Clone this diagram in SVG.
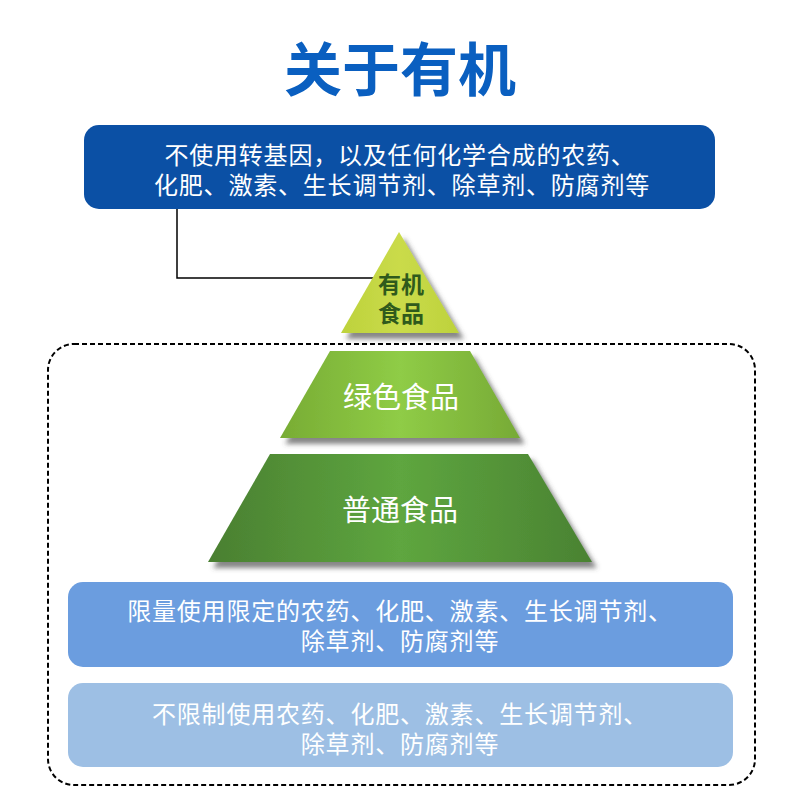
<svg xmlns="http://www.w3.org/2000/svg" width="800" height="800" viewBox="0 0 800 800">
<defs>
<style>
text{font-family:"Noto Sans CJK SC","Noto Sans",sans-serif;text-anchor:middle}
.title{font-size:58px;font-weight:bold;fill:#0a5fc0}
.wt{font-size:24px;letter-spacing:0.8px;fill:#ffffff}
.gl{font-size:29px;fill:#ffffff}
.tl{font-size:23px;font-weight:bold;fill:#2f5a1c}
</style>
<filter id="sh" x="-20%" y="-20%" width="150%" height="150%">
<feDropShadow dx="5" dy="6" stdDeviation="2.5" flood-color="#444" flood-opacity="0.65"/>
</filter>
<linearGradient id="g2" x1="0" y1="0" x2="1" y2="0">
<stop offset="0" stop-color="#78ac34"/>
<stop offset="0.5" stop-color="#8fcc46"/>
<stop offset="1" stop-color="#77aa36"/>
</linearGradient>
<linearGradient id="g3" x1="0" y1="0" x2="1" y2="0">
<stop offset="0" stop-color="#4a7f31"/>
<stop offset="0.5" stop-color="#5ea63f"/>
<stop offset="1" stop-color="#4a8232"/>
</linearGradient>
<linearGradient id="g1" x1="0" y1="0" x2="1" y2="0">
<stop offset="0" stop-color="#bdd23c"/>
<stop offset="0.5" stop-color="#cadb4a"/>
<stop offset="1" stop-color="#bdd23c"/>
</linearGradient>
</defs>
<rect width="800" height="800" fill="#ffffff"/>
<text class="title" x="400" y="91">关于有机</text>
<g id="connectors">
<polyline points="177,209 177,278 373,278" fill="none" stroke="#000" stroke-width="1.5"/>
</g>
<g id="frame">
<rect x="48" y="344" width="707" height="441" rx="26" fill="none" stroke="#000" stroke-width="2" stroke-dasharray="5,3"/>
</g>
<g id="top-box">
<rect x="84" y="125" width="631" height="84" rx="15" fill="#0b50a5"/>
<text class="wt"><tspan x="400" y="164">不使用转基因，以及任何化学合成的农药、</tspan><tspan x="402" y="194">化肥、激素、生长调节剂、除草剂、防腐剂等</tspan></text>
</g>
<g id="organic">
<polygon points="399,232 459,333 341,333" fill="url(#g1)" filter="url(#sh)"/>
<text class="tl"><tspan x="401" y="293">有机</tspan><tspan x="401" y="322">食品</tspan></text>
</g>
<g id="green">
<polygon points="330,351 470,351 520,438 280,438" fill="url(#g2)" filter="url(#sh)"/>
<text class="gl" x="401" y="408">绿色食品</text>
</g>
<g id="normal">
<polygon points="270,454 528,454 592,562 208,562" fill="url(#g3)" filter="url(#sh)"/>
<text class="gl" x="400" y="521">普通食品</text>
</g>
<g id="box-limited">
<rect x="68" y="582" width="665" height="85" rx="15" fill="#6b9ddf"/>
<text class="wt"><tspan x="400" y="620">限量使用限定的农药、化肥、激素、生长调节剂、</tspan><tspan x="400" y="650">除草剂、防腐剂等</tspan></text>
</g>
<g id="box-unlimited">
<rect x="68" y="683" width="665" height="84" rx="15" fill="#9dbfe4"/>
<text class="wt"><tspan x="400" y="723">不限制使用农药、化肥、激素、生长调节剂、</tspan><tspan x="400" y="753">除草剂、防腐剂等</tspan></text>
</g>
</svg>
